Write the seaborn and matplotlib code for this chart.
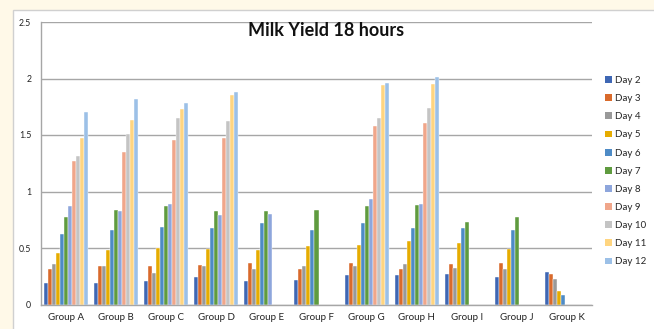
import numpy as np
import pandas as pd
import matplotlib
matplotlib.use("Agg")
import matplotlib.pyplot as plt
from matplotlib.patches import Rectangle, Patch
import seaborn as sns

nan = np.nan

groups = ["Group A", "Group B", "Group C", "Group D", "Group E", "Group F",
          "Group G", "Group H", "Group I", "Group J", "Group K"]
days = ["Day 2", "Day 3", "Day 4", "Day 5", "Day 6", "Day 7",
        "Day 8", "Day 9", "Day 10", "Day 11", "Day 12"]

day2 = [0.19, 0.19, 0.21, 0.24, 0.21, 0.22, 0.26, 0.26, 0.27, 0.24, 0.29]
day3 = [0.31, 0.34, 0.34, 0.35, 0.37, 0.31, 0.37, 0.31, 0.36, 0.37, 0.27]
day4 = [0.36, 0.34, 0.28, 0.34, 0.31, 0.34, 0.34, 0.36, 0.32, 0.31, 0.23]
day5 = [0.46, 0.48, 0.50, 0.49, 0.48, 0.52, 0.53, 0.56, 0.54, 0.49, 0.12]
day6 = [0.62, 0.66, 0.69, 0.68, 0.72, 0.66, 0.72, 0.68, 0.68, 0.66, 0.08]
day7 = [0.77, 0.84, 0.87, 0.83, 0.83, 0.84, 0.87, 0.88, 0.73, 0.77, nan]
day8 = [0.87, 0.83, 0.89, 0.79, 0.80, nan, 0.93, 0.89, nan, nan, nan]
day9 = [1.27, 1.35, 1.46, 1.47, nan, nan, 1.58, 1.61, nan, nan, nan]
day10 = [1.31, 1.51, 1.65, 1.62, nan, nan, 1.65, 1.74, nan, nan, nan]
day11 = [1.47, 1.63, 1.73, 1.85, nan, nan, 1.94, 1.95, nan, nan, nan]
day12 = [1.70, 1.82, 1.78, 1.88, nan, nan, 1.96, 2.01, nan, nan, nan]

series = [day2, day3, day4, day5, day6, day7, day8, day9, day10, day11, day12]

colors = ["#3F67B4", "#D96A2B", "#999999", "#E6AC00", "#4E8BC6", "#5F9B3F",
          "#8EA6DC", "#F0A68A", "#C4C4C4", "#FFD580", "#9CC0E7"]

rows = []
for day, vals in zip(days, series):
    for g, v in zip(groups, vals):
        rows.append({"group": g, "day": day, "yield": v})
df = pd.DataFrame(rows)

sns.set_style("white")
plt.rcParams["font.family"] = ["Lato", "DejaVu Sans"]

fig = plt.figure(figsize=(6.54, 3.29), dpi=100)
fig.patch.set_facecolor("#FFF9E8")
# white chart panel with a light border, kept behind the axes
fig.patches.append(Rectangle((13 / 654, -0.05), 1.0, 1 - 10 / 329 + 0.05,
                             transform=fig.transFigure, facecolor="white",
                             edgecolor="#D0D0D0", linewidth=1.0, zorder=-10))

ax = fig.add_axes([41 / 654, 1 - 304.5 / 329, (592 - 41) / 654, (304.5 - 22) / 329])
ax.set_facecolor("white")

sns.barplot(data=df, x="group", y="yield", hue="day", order=groups,
            hue_order=days, palette=colors, width=0.88, saturation=1,
            edgecolor="white", linewidth=0.3, errorbar=None, legend=False, ax=ax)

ax.set_ylim(0, 2.5)
ax.set_xlim(-0.5, len(groups) - 0.5)
ax.set_yticks([0, 0.5, 1, 1.5, 2, 2.5])
ax.set_yticklabels(["0", "0.5", "1", "1.5", "2", "2.5"])
ax.yaxis.grid(True, color="#A6A6A6", linewidth=1.0)
ax.set_axisbelow(True)
ax.set_xlabel("")
ax.set_ylabel("")

for s in ["top", "right"]:
    ax.spines[s].set_visible(False)
for s in ["left", "bottom"]:
    ax.spines[s].set_color("#A6A6A6")
    ax.spines[s].set_linewidth(1.0)

ax.tick_params(axis="y", length=3, color="#A6A6A6", labelsize=6.3, pad=4,
               labelcolor="#222222")
ax.tick_params(axis="x", which="major", length=0, labelsize=7, pad=6,
               labelcolor="#222222")
ax.set_xticks(np.arange(-0.5, len(groups)), minor=True)
ax.tick_params(axis="x", which="minor", length=4, color="#A6A6A6")

fig.text(326 / 654, 1 - 30 / 329, "Milk Yield 18 hours", fontsize=13,
         fontweight="bold", color="#111111", ha="center", va="center")

handles = [Patch(facecolor=c, edgecolor="none") for c in colors]
fig.legend(handles, days, loc="upper left", bbox_to_anchor=(605 / 654, 1 - 76 / 329),
           frameon=False, fontsize=7, handlelength=0.7, handleheight=0.7,
           handletextpad=0.3, labelspacing=0.94, borderaxespad=0, borderpad=0)

fig.savefig("out.png", dpi=100, facecolor=fig.get_facecolor())
